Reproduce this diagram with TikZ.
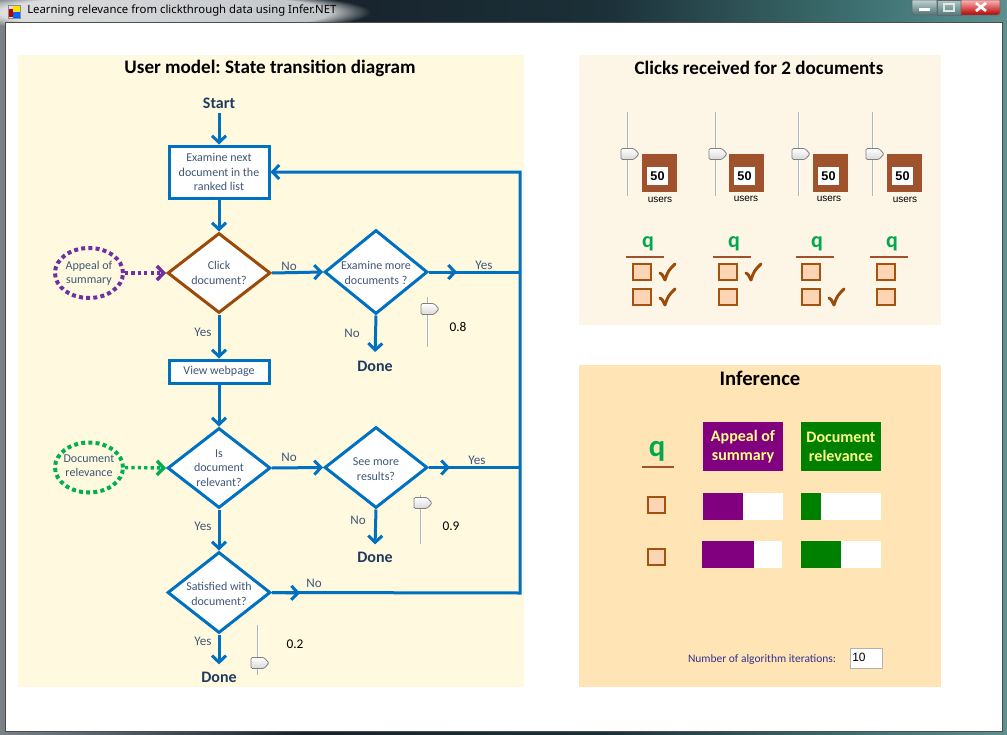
\documentclass[tikz,border=0pt]{standalone}
\usepackage{fontspec}
\setmainfont{Carlito}
\newfontfamily\arialf{Liberation Sans}
\newfontfamily\uifont{Noto Sans}
\usetikzlibrary{arrows.meta,shapes.geometric,fadings}
\frenchspacing
\definecolor{flowblue}{HTML}{0070C0}
\definecolor{txtc}{HTML}{405775}
\definecolor{darktxt}{HTML}{1F3A5F}
\definecolor{leftbg}{HTML}{FFF9E0}
\definecolor{topbg}{HTML}{FDF5E6}
\definecolor{infbg}{HTML}{FFE4B5}
\definecolor{brownd}{HTML}{9C4A0A}
\definecolor{purpled}{HTML}{7030A0}
\definecolor{greend}{HTML}{00B050}
\definecolor{siennac}{HTML}{A0522D}
\definecolor{cbfill}{HTML}{FCD5B4}
\definecolor{cbdraw}{HTML}{A3520F}
\definecolor{checkc}{HTML}{9A4A0A}
\definecolor{qgreen}{HTML}{00A84F}
\definecolor{iterc}{HTML}{33338F}
\definecolor{infpurple}{HTML}{800080}
\definecolor{infgreen}{HTML}{008000}
\definecolor{hdrtext}{HTML}{FFFF88}
\definecolor{trackgray}{HTML}{B4B4B4}
\definecolor{tbA}{HTML}{7A8288}
\definecolor{tbB}{HTML}{17222C}
\definecolor{tbC}{HTML}{1B3038}
\definecolor{tbD}{HTML}{3F7272}
\definecolor{tbE}{HTML}{5E9090}
\pgfdeclarehorizontalshading{tbshade}{100bp}{color(0bp)=(tbA); color(25bp)=(tbA); color(40bp)=(tbB); color(55bp)=(tbC); color(68bp)=(tbD); color(75bp)=(tbE); color(100bp)=(tbE)}
\newcommand\mkslider[4]{%
  \draw[line width=1.6pt, draw=trackgray] (#1,#2) -- (#1,#3);
  \draw[line width=0.5pt, draw=white] (#1+0.8,#2) -- (#1+0.8,#3);
  \shade[top color=white, bottom color=black!15, draw=black!50, line width=0.6pt, rounded corners=1pt]
    (#1-7,#4-5.5) -- (#1+6,#4-5.5) -- (#1+11,#4) -- (#1+6,#4+5.5) -- (#1-7,#4+5.5) -- cycle;
}
\begin{document}
\begin{tikzpicture}[x=0.75pt,y=-0.75pt,
  flow/.style={draw=flowblue,line width=2.25pt,-{Straight Barb[length=5pt,width=10.5pt]}},
  plainline/.style={draw=flowblue,line width=2.25pt},
  fbox/.style={rectangle,draw=flowblue,line width=2.25pt,fill=white,inner sep=0pt},
  dia/.style={diamond,draw=flowblue,line width=2.25pt,fill=white,inner sep=0pt,minimum width=77.25pt},
  ftext/.style={text=txtc,align=center,font=\fontsize{9pt}{10.9pt}\selectfont,inner sep=0pt},
  yn/.style={text=txtc,font=\fontsize{9.8pt}{11pt}\selectfont,inner sep=0pt},
  bigword/.style={text=darktxt,font=\bfseries\fontsize{12pt}{13.5pt}\selectfont},
  ell/.style={ellipse,draw,line width=3pt,dash pattern=on 3pt off 2.4pt,minimum width=51pt,minimum height=37.5pt,inner sep=0pt},
  dotarrow/.style={line width=2.6pt,dash pattern=on 2.4pt off 2.4pt,-{Straight Barb[length=5pt,width=10.5pt]}},
  val/.style={font=\fontsize{10pt}{12pt}\selectfont,inner sep=0pt},
  ttl/.style={font=\bfseries\fontsize{14.3pt}{16pt}\selectfont,inner sep=0pt},
  usq/.style={rectangle,fill=siennac,minimum width=26.25pt,minimum height=28.5pt,inner sep=0pt},
  uval/.style={rectangle,fill=white,minimum width=15.75pt,minimum height=13.5pt,inner sep=0pt,font=\arialf\bfseries\fontsize{9.5pt}{11pt}\selectfont},
  ulbl/.style={font=\arialf\fontsize{7.5pt}{9pt}\selectfont,inner sep=0pt},
  cbox/.style={rectangle,draw=cbdraw,fill=cbfill,line width=1.5pt,minimum width=13.5pt,minimum height=12pt,inner sep=0pt},
  chk/.style={draw=checkc,line width=2.2pt,line cap=round,line join=round},
  qsym/.style={text=qgreen,font=\bfseries\fontsize{16.5pt}{18pt}\selectfont,inner sep=0pt},
  uline/.style={draw=siennac,line width=1.6pt},
  hdr/.style={rectangle,minimum width=60pt,minimum height=36.75pt,inner sep=0pt,align=center,text=hdrtext,font=\bfseries\fontsize{12pt}{14.3pt}\selectfont}
]
\useasboundingbox (0,0) rectangle (1007,735);
% window frame
\shade[shading=tbshade] (0,0) rectangle (1007,735);
\fill[white,opacity=0.75,path fading=circle with fuzzy edge 20 percent] (-40,-10) rectangle (370,34);
\fill[white] (5,23) rectangle (1002,731);
\draw[black!70,line width=0.75pt] (5,23) rectangle (1002,731);
% title bar icon and text
\fill[red!75!black] (8,9) rectangle (13,17);
\fill[yellow!85!orange] (13,5) rectangle (20,12);
\fill[blue!60!cyan] (13,12) rectangle (20,18);
\draw[black!45,line width=0.4pt] (8,5) rectangle (20,18);
\node[anchor=west,inner sep=0pt,font=\uifont\fontsize{8.5pt}{10pt}\selectfont] (wtitle) at (27,11) {Learning relevance from clickthrough data using Infer.NET};
% window buttons
\shade[top color=white!60!tbE, bottom color=tbE!80!black, draw=black!60, line width=0.6pt] (912,0) -- (912,12) to[out=-90,in=180] (915,15) -- (937,15) -- (937,0) -- cycle;
\shade[top color=white!50!tbE, bottom color=tbE!85!black, draw=black!60, line width=0.6pt] (937,0) rectangle (961,15);
\shade[top color=red!30!white, bottom color=red!70!black, draw=black!60, line width=0.6pt] (961,0) -- (961,15) -- (997,15) to[out=0,in=-90] (1000,12) -- (1000,0) -- cycle;
\fill[white] (919,8) rectangle (930,11);
\draw[white!80!gray,line width=0.9pt] (944,4) rectangle (954,11);
\draw[white,line width=2pt] (976,3) -- (986,11) (976,11) -- (986,3);
% panels
\fill[leftbg] (18,55) rectangle (524,687);
\fill[topbg] (579,55) rectangle (941,325);
\fill[infbg] (579,365) rectangle (941,687);
\node[ttl] (t1) at (270,68) {User model: State transition diagram};
\node[ttl] (t2) at (759,68) {Clicks received for 2 documents};
\node[ttl,font=\bfseries\fontsize{15.5pt}{17pt}\selectfont] (t3) at (760,378) {Inference};
% ---------- flowchart ----------
\node[bigword] (start) at (219,103) {Start};
\node[fbox,minimum width=75pt,minimum height=39pt] (b1) at (219,172) {};
\node[ftext] (b1t) at (219,172) {Examine next\\document in the\\ranked list};
\node[dia,draw=brownd,minimum height=60pt] (d1) at (219,273) {};
\node[ftext] (d1t) at (219,273) {Click\\document?};
\node[dia,minimum height=63pt] (d2) at (376,272) {};
\node[ftext] (d2t) at (376,273) {Examine more\\documents ?};
\node[fbox,minimum width=75pt,minimum height=17.25pt] (b2) at (219,371.5) {};
\node[ftext] (b2t) at (219,371.5) {View webpage};
\node[dia,minimum height=60pt] (d3) at (219,468) {};
\node[ftext] (d3t) at (219,468) {Is\\document\\relevant?};
\node[dia,minimum height=60.75pt] (d4) at (376,467.5) {};
\node[ftext] (d4t) at (376,469) {See more\\results?};
\node[dia,minimum height=60.75pt] (d5) at (219,592.5) {};
\node[ftext] (d5t) at (219,594) {Satisfied with\\document?};
\node[ell,draw=purpled] (e1) at (89,273) {};
\node[ftext] (e1t) at (89,273.5) {Appeal of\\summary};
\node[ell,draw=greend] (e2) at (89,467.5) {};
\node[ftext] (e2t) at (89,465.5) {Document\\relevance};
\node[bigword] (done1) at (375,366) {Done};
\node[bigword] (done2) at (375,557) {Done};
\node[bigword] (done3) at (219,677) {Done};
\coordinate (looptop) at (520,172);
\coordinate (loopbot) at (520,593);
\coordinate (y2end) at (520,272);
\coordinate (y4end) at (520,467.5);
\coordinate (m2) at (457,272);
\coordinate (m4) at (450,467.5);
\coordinate (m5) at (300,593);
% connectors
\draw[flow] (start.south) -- (b1.north);
\draw[flow] (b1.south) -- (d1.north);
\draw[flow] (d1.east) -- (d2.west);
\draw[flow] (d1.south) -- (b2.north);
\draw[flow] (b2.south) -- (d3.north);
\draw[flow] (d3.east) -- (d4.west);
\draw[flow] (d3.south) -- (d5.north);
\draw[flow,shorten >=3pt] (d2.south) -- (done1.north);
\draw[flow,shorten >=2pt] (d4.south) -- (done2.north);
\draw[flow,shorten >=2pt] (d5.south) -- (done3.north);
\draw[plainline] (d2.east) -- (y2end);
\draw[flow] (d2.east) -- (m2);
\draw[plainline] (d4.east) -- (y4end);
\draw[flow] (d4.east) -- (m4);
\draw[flow] (d5.east) -- (loopbot) -- (looptop) -- (b1.east);
\draw[flow] (d5.east) -- (m5);
\draw[dotarrow,draw=purpled] (e1.east) -- (d1.west);
\draw[dotarrow,draw=greend] (e2.east) -- (d3.west);
% yes/no labels
\node[yn] (l1) at (289,266) {No};
\node[yn] (l2) at (484,265) {Yes};
\node[yn] (l3) at (352,333) {No};
\node[yn] (l4) at (203,332) {Yes};
\node[yn] (l5) at (289,457) {No};
\node[yn] (l6) at (477,460) {Yes};
\node[yn] (l7) at (358,520) {No};
\node[yn] (l8) at (203,526) {Yes};
\node[yn] (l9) at (314,583) {No};
\node[yn] (l10) at (203,641) {Yes};
% sliders in flowchart
\mkslider{428}{297}{347}{309}
\mkslider{421}{495}{544}{503}
\mkslider{258}{625}{675}{663}
\node[val] (v1) at (458,327) {0.8};
\node[val] (v2) at (451,526) {0.9};
\node[val] (v3) at (295,644) {0.2};
% ---------- clicks panel ----------
\foreach \sx in {628,716,799,873} {\mkslider{\sx}{112}{196}{154}}
\foreach \cx/\n in {659.5/1,746.5/2,830.5/3,904.5/4} {
  \node[usq] (usq\n) at (\cx,173) {};
  \node[uval] (uval\n) at (\cx-2,176) {50};
}
\node[ulbl] (us1) at (660,200) {users};
\node[ulbl] (us2) at (746,199) {users};
\node[ulbl] (us3) at (829,199) {users};
\node[ulbl] (us4) at (905,200) {users};
\foreach \qx/\ux/\n in {648/645/1,734/731.5/2,817/814.5/3,892/888.5/4} {
  \node[qsym] (q\n) at (\qx,244) {q};
  \draw[uline] (\ux-19,257) -- (\ux+19,257);
}
\foreach \bx/\n in {642/1,728/2,811/3,886/4} {
  \node[cbox] (cba\n) at (\bx,271.5) {};
  \node[cbox] (cbb\n) at (\bx,297) {};
}
\foreach \kx/\ky in {659/263,659/288,745/263,828/288} {
  \draw[chk] (\kx+1,\ky+10) .. controls (\kx+3,\ky+11) .. (\kx+6,\ky+17) .. controls (\kx+9,\ky+8) .. (\kx+16,\ky+1);
}
% ---------- inference panel ----------
\node[qsym,font=\bfseries\fontsize{23pt}{25pt}\selectfont] (qi) at (657,451) {q};
\draw[uline,line width=2.2pt] (642,467) -- (674,467);
\node[hdr,fill=infpurple] (h1) at (743,446.5) {Appeal of\\summary};
\node[hdr,fill=infgreen] (h2) at (841,446.5) {Document\\relevance};
\node[cbox,minimum width=12.75pt] (ci1) at (656.5,505) {};
\node[cbox,minimum width=12.75pt] (ci2) at (656.5,556.5) {};
\fill[white] (703,493) rectangle (783,520);
\fill[infpurple] (703,493) rectangle (743,520);
\fill[white] (801,493) rectangle (881,520);
\fill[infgreen] (801,493) rectangle (821,520);
\fill[white] (702,541) rectangle (782,568);
\fill[infpurple] (702,541) rectangle (754,568);
\fill[white] (801,541) rectangle (881,568);
\fill[infgreen] (801,541) rectangle (841,568);
\node[inner sep=0pt,text=iterc,font=\fontsize{8.6pt}{10pt}\selectfont] (iter) at (762,659) {Number of algorithm iterations:};
\node[rectangle,fill=white,draw=black!30,line width=0.75pt,minimum width=24pt,minimum height=15pt,inner sep=0pt] (itbox) at (866,658) {};
\node[anchor=west,inner sep=0pt,font=\arialf\fontsize{9pt}{10pt}\selectfont] (itval) at (852,657.5) {10};
\end{tikzpicture}
\end{document}
